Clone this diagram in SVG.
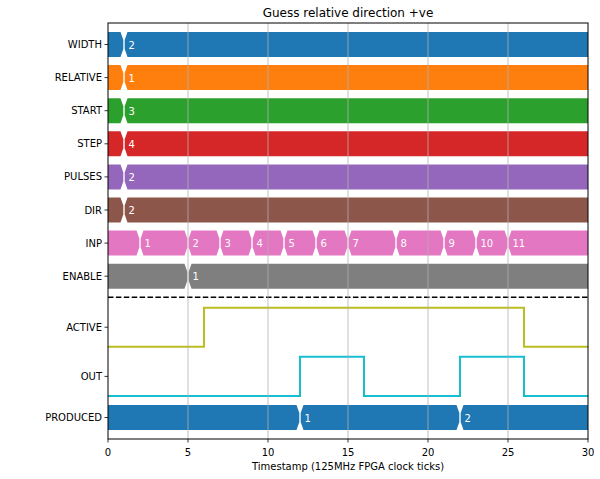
<svg xmlns="http://www.w3.org/2000/svg" xmlns:xlink="http://www.w3.org/1999/xlink" width="600" height="479" viewBox="0 0 600 479">
<style>
text{font-family:"DejaVu Sans","Liberation Sans",sans-serif;font-size:10px;fill:#000}
.yl{text-anchor:end}
.xl{text-anchor:middle}
.bl{fill:#fff}
.grid{stroke:#b0b0b0;stroke-width:0.8}
.tick{stroke:#000;stroke-width:0.8}
.sig{fill:none;stroke-width:2}
</style>
<defs>
<g id="t1">
<polygon points="108,0 120.5,0 123.3,8 123.3,17 120.5,25 108,25"/>
<polygon points="127.5,0 588,0 588,25 127.5,25 124.7,17 124.7,8"/>
</g>
</defs>
<rect width="600" height="479" fill="#fff"/>
<text x="348" y="17" class="xl" style="font-size:12px">Guess relative direction +ve</text>

<g id="WIDTH" transform="translate(0,32)"><use xlink:href="#t1" fill="#1f77b4"/><text x="128.5" y="16.5" class="bl">2</text></g>
<g id="RELATIVE" transform="translate(0,65.1)"><use xlink:href="#t1" fill="#ff7f0e"/><text x="128.5" y="16.5" class="bl">1</text></g>
<g id="START" transform="translate(0,98.2)"><use xlink:href="#t1" fill="#2ca02c"/><text x="128.5" y="16.5" class="bl">3</text></g>
<g id="STEP" transform="translate(0,131.3)"><use xlink:href="#t1" fill="#d62728"/><text x="128.5" y="16.5" class="bl">4</text></g>
<g id="PULSES" transform="translate(0,164.4)"><use xlink:href="#t1" fill="#9467bd"/><text x="128.5" y="16.5" class="bl">2</text></g>
<g id="DIR" transform="translate(0,197.5)"><use xlink:href="#t1" fill="#8c564b"/><text x="128.5" y="16.5" class="bl">2</text></g>
<g id="INP" transform="translate(0,230.6)" fill="#e377c2">
<polygon points="108,0 136.5,0 139.3,8 139.3,17 136.5,25 108,25"/>
<polygon points="143.5,0 184.5,0 187.3,8 187.3,17 184.5,25 143.5,25 140.7,17 140.7,8"/>
<polygon points="191.5,0 216.5,0 219.3,8 219.3,17 216.5,25 191.5,25 188.7,17 188.7,8"/>
<polygon points="223.5,0 248.5,0 251.3,8 251.3,17 248.5,25 223.5,25 220.7,17 220.7,8"/>
<polygon points="255.5,0 280.5,0 283.3,8 283.3,17 280.5,25 255.5,25 252.7,17 252.7,8"/>
<polygon points="287.5,0 312.5,0 315.3,8 315.3,17 312.5,25 287.5,25 284.7,17 284.7,8"/>
<polygon points="319.5,0 344.5,0 347.3,8 347.3,17 344.5,25 319.5,25 316.7,17 316.7,8"/>
<polygon points="351.5,0 392.5,0 395.3,8 395.3,17 392.5,25 351.5,25 348.7,17 348.7,8"/>
<polygon points="399.5,0 440.5,0 443.3,8 443.3,17 440.5,25 399.5,25 396.7,17 396.7,8"/>
<polygon points="447.5,0 472.5,0 475.3,8 475.3,17 472.5,25 447.5,25 444.7,17 444.7,8"/>
<polygon points="479.5,0 504.5,0 507.3,8 507.3,17 504.5,25 479.5,25 476.7,17 476.7,8"/>
<polygon points="511.5,0 588,0 588,25 511.5,25 508.7,17 508.7,8"/>
<text x="144.5" y="16.5" class="bl">1</text>
<text x="192.5" y="16.5" class="bl">2</text>
<text x="224.5" y="16.5" class="bl">3</text>
<text x="256.5" y="16.5" class="bl">4</text>
<text x="288.5" y="16.5" class="bl">5</text>
<text x="320.5" y="16.5" class="bl">6</text>
<text x="352.5" y="16.5" class="bl">7</text>
<text x="400.5" y="16.5" class="bl">8</text>
<text x="448.5" y="16.5" class="bl">9</text>
<text x="480.5" y="16.5" class="bl">10</text>
<text x="512.5" y="16.5" class="bl">11</text>
</g>
<g id="ENABLE" transform="translate(0,263.7)" fill="#7f7f7f">
<polygon points="108,0 184.5,0 187.3,8 187.3,17 184.5,25 108,25"/>
<polygon points="191.5,0 588,0 588,25 191.5,25 188.7,17 188.7,8"/>
<text x="192.5" y="16.5" class="bl">1</text>
</g>
<g id="PRODUCED" transform="translate(0,405)" fill="#1f77b4">
<polygon points="108,0 296.5,0 299.3,8 299.3,17 296.5,25 108,25"/>
<polygon points="303.5,0 456.5,0 459.3,8 459.3,17 456.5,25 303.5,25 300.7,17 300.7,8"/>
<polygon points="463.5,0 588,0 588,25 463.5,25 460.7,17 460.7,8"/>
<text x="304.5" y="16.5" class="bl">1</text>
<text x="464.5" y="16.5" class="bl">2</text>
</g>

<g id="connectors">
<line x1="108" y1="297.3" x2="588" y2="297.3" stroke="#000" stroke-width="1.5" stroke-dasharray="5.5 2.4"/>
<path id="ACTIVE" class="sig" stroke="#bcbd22" d="M108,346.7 H204 V307.7 H524 V346.7 H588"/>
<path id="OUT" class="sig" stroke="#17becf" d="M108,396 H300 V356.7 H364 V396 H460 V356.7 H524 V396 H588"/>
</g>

<g id="grid">
<line class="grid" x1="188" y1="23" x2="188" y2="439"/>
<line class="grid" x1="268" y1="23" x2="268" y2="439"/>
<line class="grid" x1="348" y1="23" x2="348" y2="439"/>
<line class="grid" x1="428" y1="23" x2="428" y2="439"/>
<line class="grid" x1="508" y1="23" x2="508" y2="439"/>
</g>

<g id="axes">
<rect x="108" y="23" width="480" height="416" fill="none" stroke="#000" stroke-width="1"/>
<g class="tick">
<line x1="104.5" y1="44.5" x2="108" y2="44.5"/>
<line x1="104.5" y1="77.6" x2="108" y2="77.6"/>
<line x1="104.5" y1="110.7" x2="108" y2="110.7"/>
<line x1="104.5" y1="143.8" x2="108" y2="143.8"/>
<line x1="104.5" y1="176.9" x2="108" y2="176.9"/>
<line x1="104.5" y1="210" x2="108" y2="210"/>
<line x1="104.5" y1="243.1" x2="108" y2="243.1"/>
<line x1="104.5" y1="276.2" x2="108" y2="276.2"/>
<line x1="104.5" y1="327.2" x2="108" y2="327.2"/>
<line x1="104.5" y1="376.4" x2="108" y2="376.4"/>
<line x1="104.5" y1="417.5" x2="108" y2="417.5"/>
<line x1="108" y1="439" x2="108" y2="442.5"/>
<line x1="188" y1="439" x2="188" y2="442.5"/>
<line x1="268" y1="439" x2="268" y2="442.5"/>
<line x1="348" y1="439" x2="348" y2="442.5"/>
<line x1="428" y1="439" x2="428" y2="442.5"/>
<line x1="508" y1="439" x2="508" y2="442.5"/>
<line x1="588" y1="439" x2="588" y2="442.5"/>
</g>
<text x="102" y="48" class="yl">WIDTH</text>
<text x="102" y="81.1" class="yl">RELATIVE</text>
<text x="102" y="114.2" class="yl">START</text>
<text x="102" y="147.3" class="yl">STEP</text>
<text x="102" y="180.4" class="yl">PULSES</text>
<text x="102" y="213.5" class="yl">DIR</text>
<text x="102" y="246.6" class="yl">INP</text>
<text x="102" y="279.7" class="yl">ENABLE</text>
<text x="102" y="330.7" class="yl">ACTIVE</text>
<text x="102" y="379.9" class="yl">OUT</text>
<text x="102" y="421" class="yl">PRODUCED</text>
<text x="108" y="456" class="xl">0</text>
<text x="188" y="456" class="xl">5</text>
<text x="268" y="456" class="xl">10</text>
<text x="348" y="456" class="xl">15</text>
<text x="428" y="456" class="xl">20</text>
<text x="508" y="456" class="xl">25</text>
<text x="588" y="456" class="xl">30</text>
<text x="348" y="470" class="xl">Timestamp (125MHz FPGA clock ticks)</text>
</g>
</svg>
